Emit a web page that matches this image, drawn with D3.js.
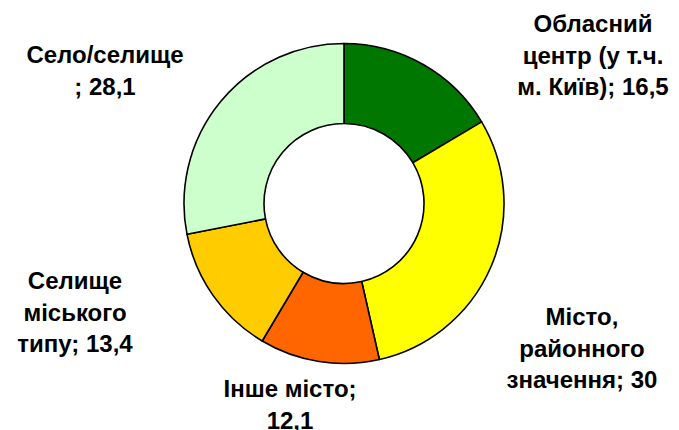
<!DOCTYPE html>
<html>
<head>
<meta charset="utf-8">
<script src="https://cdn.jsdelivr.net/npm/d3@7"></script>
<style>
  body { margin: 0; background: #fff; }
  svg text { font-family: "Liberation Sans", Arial, sans-serif; font-weight: bold; fill: #000; }
</style>
</head>
<body>
<svg id="chart" width="679" height="430"></svg>
<script>
// settlement types, clockwise from the top
const categories = [
  'Обласний центр (у т.ч. м. Київ)',
  'Місто, районного значення',
  'Інше місто',
  'Селище міського типу',
  'Село/селище'
];
const values = [16.5, 30, 12.1, 13.4, 28.1];
const valueLabels = ['16,5', '30', '12,1', '13,4', '28,1'];
// how each label is broken into lines in the picture
const labelLines = [
  ['Обласний', 'центр (у т.ч.', 'м. Київ); 16,5'],
  ['Місто,', 'районного', 'значення; 30'],
  ['Інше місто;', '12,1'],
  ['Селище', 'міського', 'типу; 13,4'],
  ['Село/селище', '; 28,1']
];
const colors = ['#007800', '#ffff00', '#ff6600', '#ffcc00', '#ccffcc'];

const conf = {
  cx: 344,
  cy: 203.5,
  outer: 160,
  inner: 80,
  fontSize: 24,
  lineHeight: 31.5
};

// label anchor: centre x and first baseline
const labelPos = [
  { x: 593, y: 32 },
  { x: 582, y: 325 },
  { x: 290, y: 397 },
  { x: 75, y: 289 },
  { x: 105, y: 63 }
];

const svg = d3.select('#chart');

const pie = d3.pie().sort(null).value(d => d);
const arc = d3.arc().innerRadius(conf.inner).outerRadius(conf.outer);

const g = svg.append('g')
  .attr('transform', 'translate(' + conf.cx + ',' + conf.cy + ')');

g.selectAll('path')
  .data(pie(values))
  .join('path')
  .attr('d', arc)
  .attr('fill', (d, i) => colors[i])
  .attr('stroke', '#000')
  .attr('stroke-width', 1.6)
  .attr('stroke-linejoin', 'round');

const labels = svg.selectAll('text.label')
  .data(labelLines)
  .join('text')
  .attr('class', 'label')
  .attr('text-anchor', 'middle')
  .attr('font-size', conf.fontSize)
  .attr('transform', (d, i) => 'translate(' + labelPos[i].x + ',' + labelPos[i].y + ')');

labels.selectAll('tspan')
  .data(d => d)
  .join('tspan')
  .attr('x', 0)
  .attr('y', (d, j) => j * conf.lineHeight)
  .text(d => d);
</script>
</body>
</html>
